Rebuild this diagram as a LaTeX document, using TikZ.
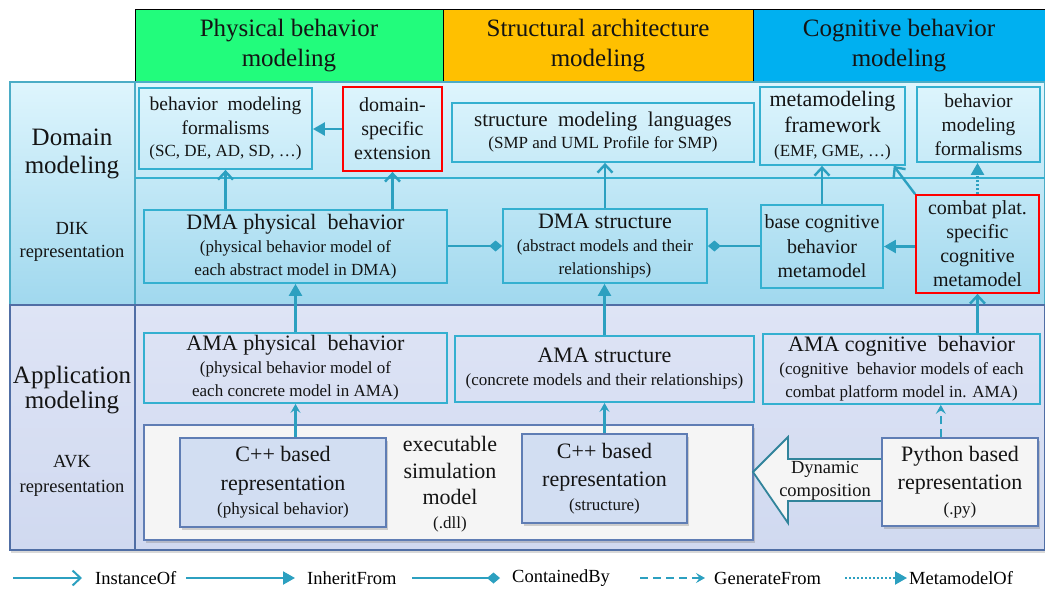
\documentclass[tikz,border=0pt]{standalone}
\usepackage{fontspec}
\setmainfont{Liberation Serif}
\usetikzlibrary{arrows.meta,shadows,calc}
\definecolor{hgreen}{RGB}{34,252,124}
\definecolor{horange}{RGB}{255,192,0}
\definecolor{hblue}{RGB}{0,176,240}
\definecolor{domtop}{RGB}{222,245,253}
\definecolor{dombot}{RGB}{160,216,238}
\definecolor{domline}{RGB}{75,172,198}
\definecolor{boxc}{RGB}{52,176,208}
\definecolor{arrc}{RGB}{44,160,192}
\definecolor{apptop}{RGB}{222,228,245}
\definecolor{appbot}{RGB}{208,217,240}
\definecolor{appline}{RGB}{80,110,165}
\definecolor{cppfill}{RGB}{210,222,242}
\definecolor{cppline}{RGB}{95,125,180}
\definecolor{whitefill}{RGB}{245,245,245}
\definecolor{bigarr}{RGB}{49,132,155}
\definecolor{txt}{RGB}{20,20,20}
\newcommand\fhead{\fontsize{25}{30}\selectfont}
\newcommand\fmain{\fontsize{22}{23}\selectfont}
\newcommand\fsub{\fontsize{17}{20}\selectfont}
\newcommand\fleg{\fontsize{18.5}{22}\selectfont}
\begin{document}
\begin{tikzpicture}[x=1pt,y=-1pt,
  hdr/.style={draw=black,line width=0.8pt,inner sep=0pt,align=center,font=\fhead,text=txt,minimum height=73pt},
  dompanel/.style={draw=domline,line width=1.5pt,top color=domtop,bottom color=dombot,inner sep=0pt},
  apppanel/.style={draw=appline,line width=1.5pt,top color=apptop,bottom color=appbot,inner sep=0pt,
     drop shadow={opacity=0.3,shadow xshift=1pt,shadow yshift=-3pt}},
  lbl/.style={align=center,text=txt,inner sep=0pt},
  box/.style={draw=boxc,line width=1.8pt,inner sep=0pt,align=center,text=txt,font=\fmain},
  redbox/.style={box,draw=red},
  cppbox/.style={draw=cppline,line width=1.4pt,fill=cppfill,inner sep=0pt,align=center,text=txt,font=\fmain,
     drop shadow={opacity=0.35,shadow xshift=2pt,shadow yshift=-2.5pt}},
  whitebox/.style={cppbox,fill=whitefill},
  conn/.style={draw=arrc,line width=2.4pt},
  inst/.style={conn,-{Straight Barb[length=8pt,width=15pt]}},
  inh/.style={conn,-{Triangle[length=12pt,width=13pt]}},
  cont/.style={conn,-{Diamond[length=13pt,width=11pt]}},
  gen/.style={conn,dash pattern=on 8pt off 5pt,-{Stealth[length=9pt,width=10pt,inset=3.5pt]}},
  gensmall/.style={conn,-{Stealth[length=9pt,width=10pt,inset=3.5pt]}},
  meta/.style={conn,dash pattern=on 2pt off 2pt,-{Triangle[length=12pt,width=13pt]}},
]
\useasboundingbox (0,0) rectangle (1045,592);
\fill[white] (0,0) rectangle (1045,592);

% header
\node[hdr,fill=hgreen,minimum width=308pt] (hphys) at (289,45.5) {Physical behavior\\modeling};
\node[hdr,fill=horange,minimum width=310pt] (hstruct) at (598,45.5) {Structural architecture\\modeling};
\node[hdr,fill=hblue,minimum width=292pt] (hcog) at (899,45.5) {Cognitive behavior\\modeling};

% panels
\node[dompanel,minimum width=125pt,minimum height=223pt] (domlab) at (72.5,193.5) {};
\node[dompanel,minimum width=910pt,minimum height=223pt] (dompan) at (590,193.5) {};
\node[apppanel,minimum width=125pt,minimum height=245pt] (applab) at (72.5,427.5) {};
\node[apppanel,minimum width=910pt,minimum height=245pt] (apppan) at (590,427.5) {};
\coordinate (divl) at (135,178);
\coordinate (divr) at (1045,178);
\draw[boxc,line width=1.5pt] (divl) -- (divr);

% left labels
\node[lbl,font=\fontsize{25}{28}\selectfont] (domt) at (72,154) {Domain\\modeling};
\node[lbl,font=\fontsize{18.5}{23}\selectfont] (dikt) at (72,241.5) {DIK\\representation};
\node[lbl,font=\fontsize{25}{25}\selectfont] (appt) at (72,390.5) {Application\\modeling};
\node[lbl,font=\fontsize{18.5}{25}\selectfont] (avkt) at (72,475.5) {AVK\\representation};

% domain boxes
\node[box,minimum width=173pt,minimum height=81pt,font=\fontsize{19.5}{24}\selectfont] (bmf) at (225.5,128.5)
  {behavior\ \ modeling\\formalisms\\[-2pt]{\fsub (SC, DE, AD, SD, …)}};
\node[redbox,minimum width=99pt,minimum height=84pt,font=\fontsize{20}{24}\selectfont] (dse) at (392.5,129)
  {domain-\\specific\\extension};
\node[box,minimum width=302pt,minimum height=59pt,font=\fontsize{21}{22}\selectfont] (sml) at (603,132.5)
  {structure\ \ modeling\ \ languages\\{\fsub (SMP and UML Profile for SMP)}};
\node[box,minimum width=145pt,minimum height=78pt,font=\fontsize{22}{26}\selectfont] (mmf) at (832.5,126)
  {metamodeling\\framework\\[-2pt]{\fsub (EMF, GME, …)}};
\node[box,minimum width=123pt,minimum height=75pt,font=\fontsize{19.5}{24}\selectfont] (bmfc) at (978.5,124.5)
  {behavior\\modeling\\formalisms};
\node[box,minimum width=303pt,minimum height=73pt] (dmap) at (295.5,246.5)
  {DMA physical\ \ behavior\\{\fsub (physical behavior model of}\\{\fsub each abstract model in DMA)}};
\node[box,minimum width=204pt,minimum height=74pt] (dmas) at (605,246)
  {DMA structure\\{\fsub (abstract models and their}\\{\fsub relationships)}};
\node[box,minimum width=122pt,minimum height=83pt,font=\fontsize{20}{24.5}\selectfont] (bcb) at (822,246.5)
  {base cognitive\\behavior\\metamodel};
\node[redbox,minimum width=123pt,minimum height=98pt,font=\fontsize{20}{24}\selectfont] (cps) at (977.5,244)
  {combat plat.\\specific\\cognitive\\metamodel};

% application boxes
\node[box,minimum width=303pt,minimum height=70pt] (amap) at (295.5,368)
  {AMA physical\ \ behavior\\{\fsub (physical behavior model of}\\{\fsub each concrete model in AMA)}};
\node[box,minimum width=299pt,minimum height=66pt] (amas) at (604.5,369)
  {AMA structure\\{\fsub (concrete models and their relationships)}};
\node[box,minimum width=277pt,minimum height=70pt] (amac) at (901.5,369)
  {AMA cognitive\ \ behavior\\{\fsub (cognitive\ \ behavior models of each}\\{\fsub combat platform model in. AMA)}};

\node[whitebox,minimum width=609pt,minimum height=115pt] (exec) at (448.5,482.5) {};
\node[lbl,font=\fontsize{22}{26.5}\selectfont] (exectxt) at (450,484)
  {executable\\simulation\\model\\[-3pt]{\fsub (.dll)}};
\node[cppbox,minimum width=206pt,minimum height=89pt,font=\fontsize{22}{29}\selectfont] (cppp) at (283,482.5)
  {C++ based\\representation\\[-5pt]{\fsub (physical behavior)}};
\node[cppbox,minimum width=165pt,minimum height=89pt,font=\fontsize{22}{28}\selectfont] (cpps) at (604.5,478.5)
  {C++ based\\representation\\[-4pt]{\fsub (structure)}};

% dynamic composition arrow
\draw[draw=bigarr,line width=1.8pt,fill=whitefill] (753,472) -- (788,437) -- (788,459) -- (882,459)
   -- (882,501) -- (788,501) -- (788,523) -- cycle;
\node[lbl,font=\fontsize{18.5}{23}\selectfont] (dyn) at (825,481) {Dynamic\\composition};
\node[whitebox,minimum width=156pt,minimum height=88pt,font=\fontsize{22}{28}\selectfont] (py) at (960,482)
  {Python based\\representation\\[-3pt]{\fsub (.py)}};

% connectors
\draw[inh] (dse.west) -- (dse.west -| bmf.east);
\draw[inst] (dmap.north -| bmf.south) -- (bmf.south);
\draw[inst] (dmap.north -| dse.south) -- (dse.south);
\draw[inst] (dmas.north) -- (dmas.north |- sml.south);
\draw[cont] (dmap.east |- dmas.west) -- (dmas.west);
\draw[cont] (bcb.west |- dmas.east) -- (dmas.east);
\draw[inh] (cps.west |- bcb.east) -- (bcb.east);
\draw[inst] (bcb.north) -- (bcb.north |- mmf.south);
\path ($(mmf.south west)!0.917!(mmf.south east)$) coordinate (mmfse);
\draw[inst] (cps.north west) -- (mmfse);
\draw[meta] (cps.north) -- (cps.north |- bmfc.south);
\draw[inh] (amap.north) -- (dmap.south);
\draw[inh] (amas.north) -- (amas.north |- dmas.south);
\draw[inst] (cps.south |- amac.north) -- (cps.south);
\draw[gensmall] (amap.south |- cppp.north) -- (amap.south);
\draw[gensmall] (cpps.north) -- (cpps.north |- amas.south);
\path ($(py.north west)!0.378!(py.north east)$) coordinate (pytop);
\draw[gen] (pytop) -- (pytop |- amac.south);

% legend
\coordinate (l1a) at (13,578); \coordinate (l1b) at (82,578);
\draw[inst,line width=2pt] (l1a) -- (l1b);
\node[anchor=west,font=\fleg,inner sep=0pt] (l1t) at (95,578) {InstanceOf};
\coordinate (l2a) at (186,578); \coordinate (l2b) at (295,578);
\draw[inh,line width=2pt] (l2a) -- (l2b);
\node[anchor=west,font=\fleg,inner sep=0pt] (l2t) at (307,578) {InheritFrom};
\coordinate (l3a) at (412,578); \coordinate (l3b) at (500,578);
\draw[cont,line width=2pt] (l3a) -- (l3b);
\node[anchor=west,font=\fleg,inner sep=0pt] (l3t) at (512,578) {ContainedBy};
\coordinate (l4a) at (640,578); \coordinate (l4b) at (705,578);
\draw[gen,line width=2pt] (l4a) -- (l4b);
\node[anchor=west,font=\fleg,inner sep=0pt] (l4t) at (714,578) {GenerateFrom};
\coordinate (l5a) at (845,578); \coordinate (l5b) at (907,578);
\draw[meta,line width=2pt] (l5a) -- (l5b);
\node[anchor=west,font=\fleg,inner sep=0pt] (l5t) at (909,578) {MetamodelOf};
\end{tikzpicture}
\end{document}
